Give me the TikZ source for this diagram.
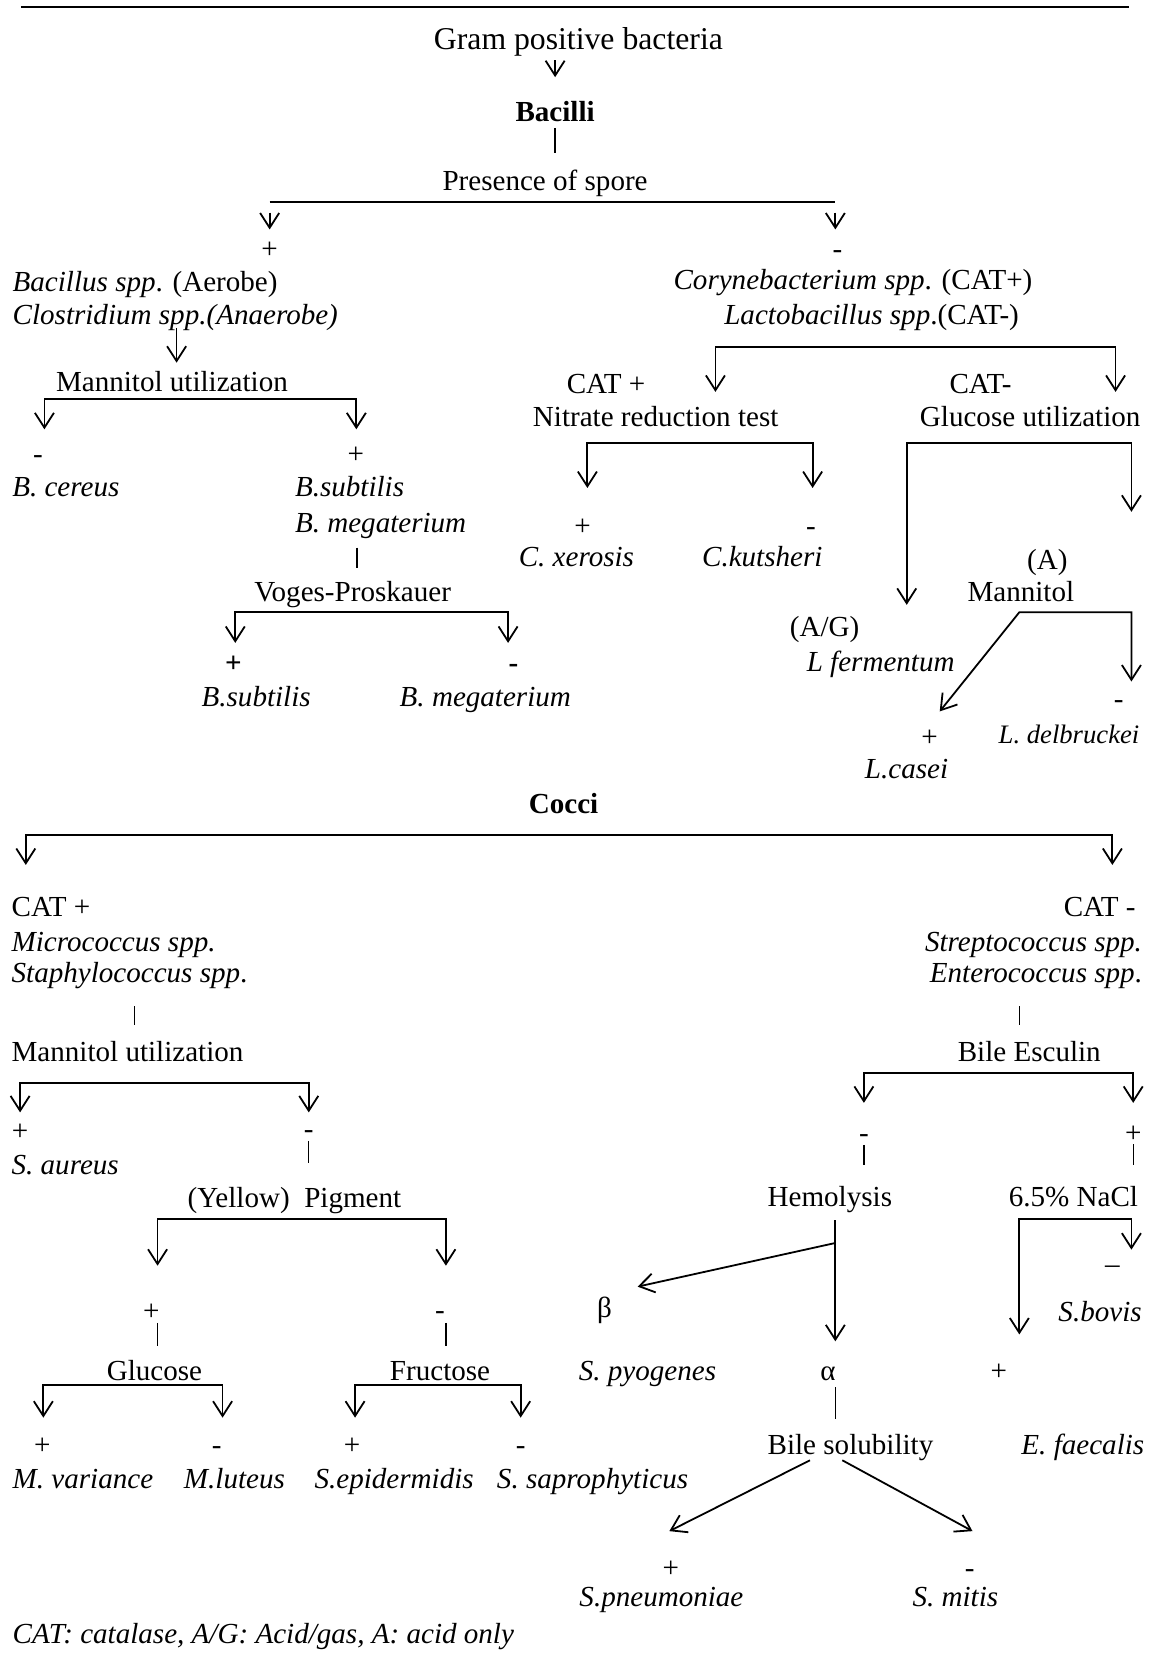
\documentclass[tikz,border=0pt]{standalone}
\usepackage{fontspec}
\setmainfont{Liberation Serif}
\usetikzlibrary{arrows.meta}
\newcommand\fs{\fontsize{27.5pt}{33pt}\selectfont}
% bracket: name, x left, x right, y of bar, y of left tip, y of right tip
\newcommand\brk[6]{%
  \coordinate (#1a) at (#2,#5);
  \coordinate (#1b) at (#2,#4);
  \coordinate (#1c) at (#3,#4);
  \coordinate (#1d) at (#3,#6);
  \draw[brline] (#1a) -- (#1b) -- (#1c) -- (#1d);}
% vertical bar: name, x, y top, y bottom
\newcommand\vbar[4]{%
  \coordinate (#1a) at (#2,#3);
  \coordinate (#1b) at (#2,#4);
  \draw[thinln] (#1a) -- (#1b);}
% vertical arrow: name, x, y start, y tip
\newcommand\varr[4]{%
  \coordinate (#1a) at (#2,#3);
  \coordinate (#1b) at (#2,#4);
  \draw[arline] (#1a) -- (#1b);}
\begin{document}
\begin{tikzpicture}[x=1pt,y=-1pt,
  every node/.style={font=\fs, inner sep=0pt, outer sep=0pt},
  ln/.style={line width=1.8pt},
  thinln/.style={line width=1.3pt},
  arline/.style={line width=1.7pt, -{Straight Barb[length=14pt,width=18pt]}},
  brline/.style={line width=1.7pt, {Straight Barb[length=14pt,width=18pt]}-{Straight Barb[length=14pt,width=18pt]}},
  L/.style={anchor=base west},
  C/.style={anchor=base},
  R/.style={anchor=base east}]
\useasboundingbox (0,0) rectangle (1091,1568);

% ---------- top rule ----------
\coordinate (topL) at (19.8,7); \coordinate (topR) at (1068,7);
\draw[ln] (topL) -- (topR);

% ---------- Bacilli ----------
\node[C,font=\fontsize{30pt}{36pt}\selectfont] (gpb) at (547,47) {Gram positive bacteria};
\varr{a1}{525}{57}{73}
\node[C,font=\fs\bfseries] (bac) at (525,115) {Bacilli};
\vbar{b1}{525}{121}{145}
\node[C] (spore) at (515.5,180) {Presence of spore};
\coordinate (spL) at (255,191); \coordinate (spR) at (790,191);
\draw[ln] (spL) -- (spR);
\varr{spla}{255}{201}{217}
\varr{spra}{790}{201}{217}
\node[C] (pSpore) at (255,244) {+};
\node[C] (mSpore) at (792,244) {-};

% left: spore positive
\node[L] (bacil) at (12,276) {\textit{Bacillus spp}. (Aerobe)};
\node[L] (clos) at (12,307) {\textit{Clostridium spp.(Anaerobe)}};
\varr{clar}{167}{310}{343}
\node[L] (mu1) at (53,370) {Mannitol utilization};
\brk{mub1}{42}{337}{377}{406}{406}
\node[C] (m1) at (36,438) {-};
\node[C] (p1) at (336.5,438) {+};
\node[L] (bcer) at (11.6,470) {\textit{B. cereus}};
\node[L] (bsub1) at (279,470) {\textit{B.subtilis}};
\node[L] (bmeg1) at (279,504) {\textit{B. megaterium}};
\vbar{bm1}{337.6}{518}{537}
\node[L] (vp) at (240.6,569) {Voges-Proskauer};
\brk{vpb}{222.5}{480.5}{579}{608}{608}
\node[C,font=\fs\bfseries] (p2) at (220.7,636) {+};
\node[C,font=\fs\bfseries] (m2) at (485.6,636) {-};
\node[L] (bsub2) at (190.7,668) {\textit{B.subtilis}};
\node[L] (bmeg2) at (378,668) {\textit{B. megaterium}};

% right: spore negative
\node[L] (cory) at (637,274) {\textit{Corynebacterium spp}. (CAT+)};
\node[L] (lacto) at (685,307) {\textit{Lactobacillus spp}.(CAT-)};
\brk{lb}{676.6}{1055}{328}{370.6}{370.6}
\node[L] (catp) at (536,372) {CAT +};
\node[L] (nrt) at (504,403.5) {Nitrate reduction test};
\node[L] (catm) at (898,372) {CAT-};
\node[L] (gu) at (870,403.5) {Glucose utilization};
\brk{nb}{555.5}{768.5}{419}{461.5}{461.5}
\node[C] (p3) at (551,506) {+};
\node[C] (m3) at (767,506) {-};
\node[L] (cxer) at (490.6,536) {\textit{C. xerosis}};
\node[L] (ckut) at (664,536) {\textit{C.kutsheri}};
\brk{gb}{857.5}{1070}{419}{572}{484}
\node[C] (acid) at (990.5,539) {(A)};
\node[L] (mann2) at (915,569) {Mannitol};
\coordinate (mbLt) at (888.7,672.8);
\coordinate (mbL) at (964,579);
\coordinate (mbR) at (1070,579);
\coordinate (mbRt) at (1070,644.5);
\draw[brline] (mbLt) -- (mbL) -- (mbR) -- (mbRt);
\node[L] (ag) at (747,602) {(A/G)};
\node[L] (lfer) at (763,635) {\textit{L fermentum}};
\node[C] (p4) at (879,706) {+};
\node[L] (lcas) at (818,736) {\textit{L.casei}};
\node[C] (m4) at (1058,670) {-};
\node[L,font=\fontsize{25.2pt}{30pt}\selectfont] (ldel) at (944.5,703) {\textit{L. delbruckei}};

% ---------- Cocci ----------
\node[C,font=\fs\bfseries] (cocci) at (533,769) {Cocci};
\brk{cb}{24.4}{1052}{789.5}{818}{818}

% left: CAT +
\node[L] (catp2) at (11,866.7) {CAT +};
\node[L] (micro) at (11,900) {\textit{Micrococcus spp.}};
\node[L] (staph) at (11,929.6) {\textit{Staphylococcus spp}.};
\vbar{st}{127}{951.7}{969}
\node[L] (mu2) at (11,1003.7) {Mannitol utilization};
\brk{mub2}{19}{292}{1024}{1052}{1052}
\node[C] (p5) at (19,1079) {+};
\node[L] (saur) at (11,1111) {\textit{S. aureus}};
\node[C] (m5) at (292,1077) {-};
\vbar{m5b}{292}{1079}{1100}
\node[L] (pig) at (177.5,1142) {(Yellow)\ \ Pigment};
\brk{pb}{149}{421.7}{1152.8}{1197}{1197}
\node[C] (p6) at (143,1249) {+};
\vbar{p6b}{149}{1251}{1273}
\node[C] (m6) at (416,1248) {-};
\vbar{m6b}{421.7}{1251}{1273}
\node[L] (gluc) at (101,1306) {Glucose};
\node[L] (fruc) at (368.8,1306) {Fructose};
\brk{glb}{41}{210.5}{1310}{1340.7}{1340.7}
\brk{frb}{335.8}{492.4}{1310}{1340.7}{1340.7}
\node[C] (p7) at (40,1376) {+};
\node[C] (m7) at (205,1376) {-};
\node[C] (p8) at (333,1376) {+};
\node[C] (m8) at (492.4,1376) {-};
\node[L] (mvar) at (12,1408) {\textit{M. variance}};
\node[L] (mlut) at (174,1408) {\textit{M.luteus}};
\node[L] (sepi) at (297.5,1408) {\textit{S.epidermidis}};
\node[L] (ssap) at (470,1408) {\textit{S. saprophyticus}};

% right: CAT -
\node[R] (catm2) at (1074,866.7) {CAT -};
\node[R] (strep) at (1080,900) {\textit{Streptococcus spp.}};
\node[R] (entero) at (1080,929.6) {\textit{Enterococcus spp}.};
\vbar{en}{964}{951.7}{969}
\node[L] (be) at (905.8,1003.7) {Bile Esculin};
\brk{beb}{817}{1071.7}{1014.6}{1043}{1043}
\node[C] (m9) at (817,1080) {-};
\vbar{m9b}{817}{1082.6}{1101.5}
\node[C] (p9) at (1071.7,1080) {+};
\vbar{p9b}{1071.7}{1082}{1101.5}
\node[L] (hemo) at (726,1141) {Hemolysis};
\node[L] (nacl) at (954,1141) {6.5\% NaCl};
\varr{hem}{790}{1154}{1268.5}
\coordinate (hbr) at (790,1175.5);
\coordinate (htip) at (603,1216.8);
\draw[arline] (hbr) -- (htip);
\node[C] (beta) at (571.7,1246) {β};
\node[L] (spyo) at (547.4,1306) {\textit{S. pyogenes}};
\node[C] (alpha) at (783,1306) {α};
\vbar{alb}{790}{1311.7}{1341.6}
\node[L] (bsol) at (726,1375.6) {Bile solubility};
\brk{nab}{964}{1070}{1152.8}{1262}{1181.8}
\node[C] (m10) at (1052,1204) {–};
\node[L] (sbov) at (1001,1249.5) {\textit{S.bovis}};
\node[C] (p10) at (944.5,1306) {+};
\node[L] (efae) at (966,1375.6) {\textit{E. faecalis}};
\coordinate (bsL) at (766,1381); \coordinate (bsLt) at (633,1448);
\coordinate (bsR) at (796.6,1381); \coordinate (bsRt) at (919.7,1448);
\draw[arline] (bsL) -- (bsLt);
\draw[arline] (bsR) -- (bsRt);
\node[C] (p11) at (634.5,1492) {+};
\node[C] (m11) at (917,1492) {-};
\node[L] (spne) at (548,1519) {\textit{S.pneumoniae}};
\node[L] (smit) at (863,1519) {\textit{S. mitis}};

% footnote
\node[L] (foot) at (12,1554) {\textit{CAT: catalase, A/G: Acid/gas, A: acid only}};
\end{tikzpicture}
\end{document}
